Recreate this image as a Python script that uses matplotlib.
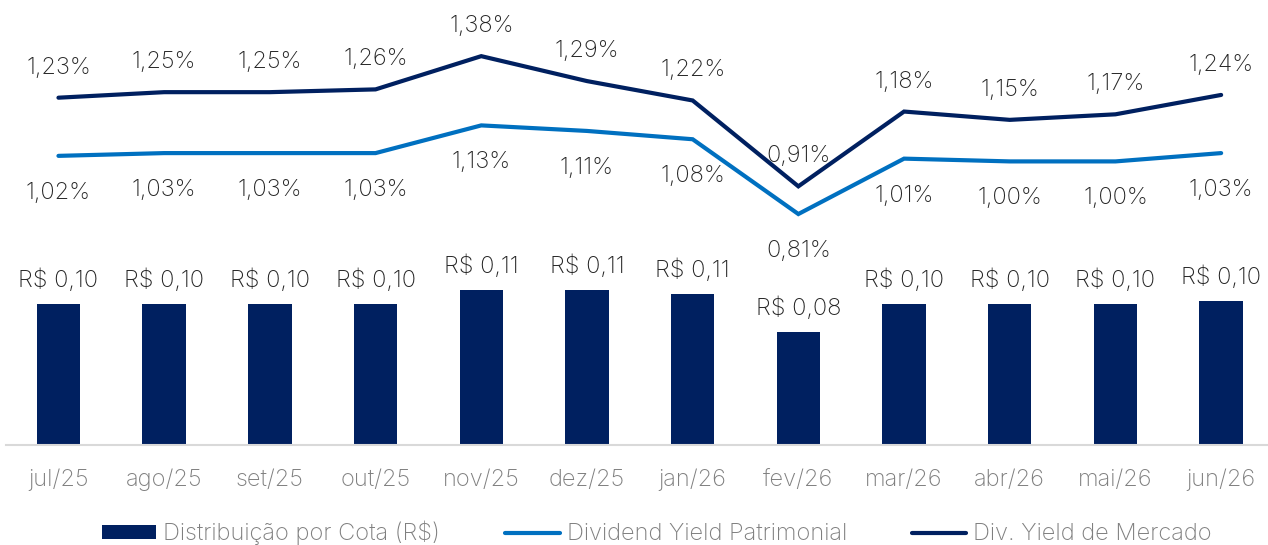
import matplotlib.pyplot as plt
from matplotlib.patches import Patch
from matplotlib.lines import Line2D

plt.rcParams['font.family'] = ['Inter', 'DejaVu Sans']
plt.rcParams['font.weight'] = 'light'

# ........................ Data ........................
months = ['jul/25', 'ago/25', 'set/25', 'out/25', 'nov/25', 'dez/25',
          'jan/26', 'fev/26', 'mar/26', 'abr/26', 'mai/26', 'jun/26']
dist_cota = [0.100, 0.100, 0.100, 0.100, 0.110, 0.110,
             0.107, 0.080, 0.100, 0.100, 0.100, 0.102]
dy_patrimonial = [1.02, 1.03, 1.03, 1.03, 1.13, 1.11,
                  1.08, 0.81, 1.01, 1.00, 1.00, 1.03]
dy_mercado = [1.23, 1.25, 1.25, 1.26, 1.38, 1.29,
              1.22, 0.91, 1.18, 1.15, 1.17, 1.24]

navy = '#002060'
blue = '#0070C0'
txt = '#262626'
grey = '#7f7f7f'
fs = 17

W, H = 1268, 545
fig = plt.figure(figsize=(W / 100, H / 100), dpi=100)
ax = fig.add_axes([5.6 / W, 100 / H, 1268.4 / W, 425 / H])
ax2 = ax.twinx()

x = list(range(len(months)))

# bars
ax.bar(x, dist_cota, width=0.41, color=navy, zorder=2)
for xi, v in zip(x, dist_cota):
    ax.annotate(f"R$ {v:.2f}".replace('.', ','), (xi, v), xytext=(0, 12.3),
                textcoords='offset points', ha='center', va='baseline',
                fontsize=fs, color=txt)
ax.set_ylim(0, 0.3014)
ax.set_xlim(-0.5, 11.5)

# lines
ax2.plot(x, dy_patrimonial, color=blue, lw=3, solid_capstyle='round',
         solid_joinstyle='miter', zorder=3)
ax2.plot(x, dy_mercado, color=navy, lw=3, solid_capstyle='round',
         solid_joinstyle='miter', zorder=3)
for xi, v in zip(x, dy_mercado):
    ax2.annotate(f"{v:.2f}%".replace('.', ','), (xi, v), xytext=(0, 17.3),
                 textcoords='offset points', ha='center', va='baseline',
                 fontsize=fs, color=txt)
for xi, v in zip(x, dy_patrimonial):
    ax2.annotate(f"{v:.2f}%".replace('.', ','), (xi, v), xytext=(0, -31),
                 textcoords='offset points', ha='center', va='baseline',
                 fontsize=fs, color=txt)
ax2.set_ylim(-0.0238, 1.5105)

for a in (ax, ax2):
    a.set_yticks([])
    for s in ['top', 'right', 'left']:
        a.spines[s].set_visible(False)
ax2.spines['bottom'].set_visible(False)
ax.spines['bottom'].set_color('#d9d9d9')
ax.spines['bottom'].set_linewidth(1.5)

ax.set_xticks(x)
ax.set_xticklabels(months, fontsize=fs, color=grey)
ax.tick_params(axis='x', length=0, pad=17)

handles = [Patch(facecolor=navy, edgecolor='none'),
           Line2D([], [], color=blue, lw=3, solid_capstyle='round'),
           Line2D([], [], color=navy, lw=3, solid_capstyle='round')]
labels = ['Distribuição por Cota (R$)', 'Dividend Yield Patrimonial', 'Div. Yield de Mercado']
leg = fig.legend(handles, labels, loc='center', bbox_to_anchor=(657 / W, 1 - 533 / H),
                 ncol=3, frameon=False, fontsize=fs, handlelength=2.3,
                 handleheight=0.55, handletextpad=0.3, columnspacing=2.75)
for t in leg.get_texts():
    t.set_color(grey)

fig.savefig('out.png', dpi=100)
